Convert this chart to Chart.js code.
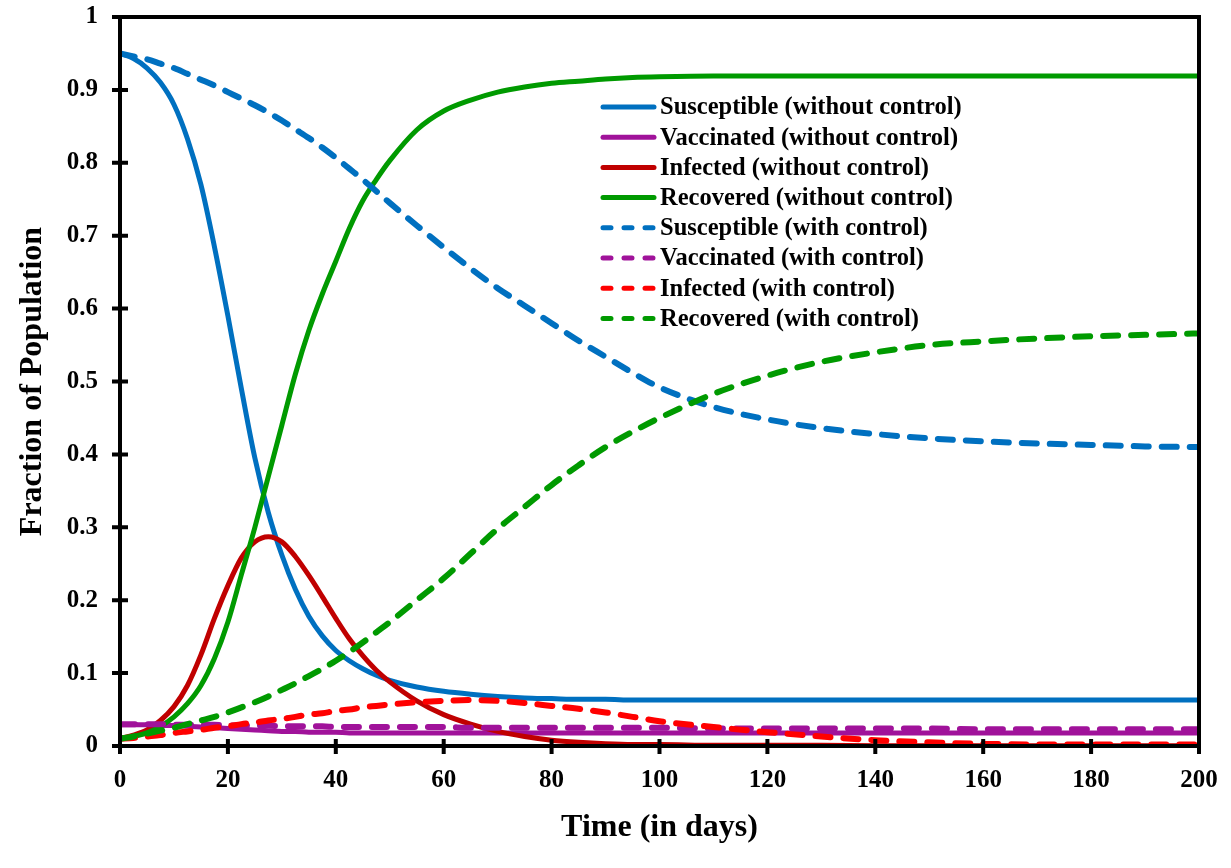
<!DOCTYPE html>
<html>
<head>
<meta charset="utf-8">
<script src="https://cdn.jsdelivr.net/npm/chart.js@4"></script>
<style>
    html, body { margin: 0; padding: 0; background: #fff; }
    #wrap { width: 1231px; height: 868px; }
</style>
</head>
<body>
<div id="wrap"><canvas id="sirChart" width="1231" height="868"></canvas></div>
<script>
const days = [0, 2.5, 5, 7.5, 10, 12.5, 15, 17.5, 20, 22.5, 25, 27.5, 30, 32.5, 35, 37.5, 40, 42.5, 45, 47.5, 50,
    55, 60, 65, 70, 75, 80, 85, 90, 95, 100,
    110, 120, 130, 140, 150, 160, 170, 180, 190, 200];

// without control
const susWithout = [0.950, 0.943, 0.930, 0.910, 0.880, 0.833, 0.770, 0.685, 0.590, 0.490, 0.395, 0.320, 0.262, 0.215, 0.178, 0.151, 0.131, 0.117, 0.106, 0.097, 0.090,
    0.081, 0.075, 0.071, 0.068, 0.066, 0.065, 0.064, 0.064, 0.063, 0.063,
    0.063, 0.063, 0.063, 0.063, 0.063, 0.063, 0.063, 0.063, 0.063, 0.063];
const vacWithout = [0.029, 0.029, 0.029, 0.028, 0.028, 0.027, 0.026, 0.025, 0.024, 0.023, 0.022, 0.021, 0.020, 0.020, 0.019, 0.019, 0.019, 0.018, 0.018, 0.018, 0.018,
    0.018, 0.018, 0.018, 0.018, 0.018, 0.018, 0.018, 0.018, 0.018, 0.018,
    0.018, 0.018, 0.018, 0.018, 0.018, 0.018, 0.018, 0.018, 0.018, 0.018];
const infWithout = [0.010, 0.015, 0.022, 0.035, 0.054, 0.083, 0.125, 0.175, 0.220, 0.258, 0.280, 0.287, 0.280, 0.260, 0.234, 0.205, 0.175, 0.147, 0.124, 0.104, 0.088,
    0.062, 0.043, 0.030, 0.020, 0.013, 0.008, 0.005, 0.003, 0.002, 0.002,
    0.001, 0.001, 0.001, 0.0005, 0.0005, 0.0005, 0.0005, 0.0005, 0.0005, 0.0005];
const recWithout = [0.010, 0.013, 0.018, 0.027, 0.040, 0.058, 0.083, 0.120, 0.170, 0.235, 0.300, 0.370, 0.440, 0.510, 0.570, 0.620, 0.665, 0.710, 0.748, 0.777, 0.803,
    0.845, 0.871, 0.886, 0.897, 0.904, 0.909, 0.912, 0.915, 0.917, 0.918,
    0.919, 0.919, 0.919, 0.919, 0.919, 0.919, 0.919, 0.919, 0.919, 0.919];

// with control
const susWith = [0.950, 0.946, 0.942, 0.936, 0.930, 0.922, 0.914, 0.906, 0.897, 0.888, 0.879, 0.869, 0.858, 0.846, 0.834, 0.821, 0.807, 0.792, 0.777, 0.761, 0.745,
    0.714, 0.684, 0.655, 0.628, 0.604, 0.580, 0.556, 0.534, 0.512, 0.492,
    0.465, 0.448, 0.436, 0.428, 0.422, 0.418, 0.415, 0.413, 0.411, 0.410];
const vacWith = [0.030, 0.030, 0.030, 0.030, 0.029, 0.029, 0.029, 0.029, 0.028, 0.028, 0.028, 0.028, 0.027, 0.027, 0.027, 0.027, 0.026, 0.026, 0.026, 0.026, 0.026,
    0.026, 0.026, 0.025, 0.025, 0.025, 0.025, 0.025, 0.025, 0.025, 0.025,
    0.024, 0.024, 0.024, 0.024, 0.024, 0.023, 0.023, 0.023, 0.023, 0.023];
const infWith = [0.010, 0.011, 0.013, 0.015, 0.018, 0.020, 0.022, 0.025, 0.027, 0.030, 0.032, 0.035, 0.037, 0.040, 0.043, 0.045, 0.048, 0.050, 0.053, 0.055, 0.057,
    0.060, 0.062, 0.063, 0.062, 0.059, 0.055, 0.051, 0.046, 0.040, 0.034,
    0.026, 0.019, 0.013, 0.008, 0.005, 0.003, 0.002, 0.002, 0.002, 0.002];
const recWith = [0.010, 0.013, 0.017, 0.021, 0.025, 0.030, 0.035, 0.040, 0.046, 0.053, 0.060, 0.068, 0.077, 0.086, 0.096, 0.106, 0.117, 0.129, 0.142, 0.156, 0.170,
    0.200, 0.230, 0.264, 0.298, 0.328, 0.358, 0.385, 0.410, 0.431, 0.450,
    0.483, 0.508, 0.527, 0.540, 0.550, 0.555, 0.559, 0.562, 0.564, 0.566];

const FONT = "'Liberation Serif', 'Times New Roman', serif";
const BLUE = '#0070C0', PURPLE = '#A0129A', DARKRED = '#C00000', GREEN = '#009A00', RED = '#FF0000';

function toPoints(arr) {
    return days.map((d, i) => ({ x: d, y: arr[i] }));
}

function series(label, values, color, dashed, order) {
    return {
        label: label,
        data: toPoints(values),
        borderColor: color,
        backgroundColor: color,
        borderWidth: dashed ? 6 : 5,
        borderDash: dashed ? [15, 13] : [],
        borderCapStyle: dashed ? 'round' : 'butt',
        pointRadius: 0,
        cubicInterpolationMode: 'monotone',
        fill: false,
        order: order
    };
}

// no extra room for the first / last tick label
function noLabelPadding(scale) {
    scale.paddingTop = 0;
    scale.paddingBottom = 0;
    scale.paddingLeft = 0;
    scale.paddingRight = 0;
}

// frame, crossing tick marks and the legend inside the plot
const framePlugin = {
    id: 'frame',
    afterDatasetsDraw(chart) {
        const { ctx, chartArea: a, scales: { x, y } } = chart;
        ctx.save();
        ctx.strokeStyle = '#000';
        ctx.lineWidth = 4;
        ctx.strokeRect(a.left, a.top, a.right - a.left, a.bottom - a.top);
        ctx.beginPath();
        y.ticks.forEach(t => {
            const p = y.getPixelForValue(t.value);
            ctx.moveTo(a.left - 8, p);
            ctx.lineTo(a.left + 8, p);
        });
        x.ticks.forEach(t => {
            const p = x.getPixelForValue(t.value);
            ctx.moveTo(p, a.bottom - 7);
            ctx.lineTo(p, a.bottom + 8);
        });
        ctx.stroke();

        ctx.font = 'bold 24.5px ' + FONT;
        ctx.textBaseline = 'middle';
        ctx.textAlign = 'left';
        chart.data.datasets.forEach((ds, i) => {
            const yy = 107 + i * 30.2;
            ctx.strokeStyle = ds.borderColor;
            ctx.lineWidth = 5;
            ctx.lineCap = 'round';
            ctx.setLineDash(ds.borderDash.length ? [8, 13] : []);
            ctx.beginPath();
            ctx.moveTo(603, yy);
            ctx.lineTo(654, yy);
            ctx.stroke();
            ctx.setLineDash([]);
            ctx.fillStyle = '#000';
            ctx.fillText(ds.label, 660, yy + 1);
        });
        ctx.restore();
    }
};

new Chart(document.getElementById('sirChart'), {
    type: 'line',
    data: {
        datasets: [
            series('Susceptible (without control)', susWithout, BLUE, false, 7),
            series('Vaccinated (without control)', vacWithout, PURPLE, false, 6),
            series('Infected (without control)', infWithout, DARKRED, false, 5),
            series('Recovered (without control)', recWithout, GREEN, false, 4),
            series('Susceptible (with control)', susWith, BLUE, true, 3),
            series('Vaccinated (with control)', vacWith, PURPLE, true, 2),
            series('Infected (with control)', infWith, RED, true, 1),
            series('Recovered (with control)', recWith, GREEN, true, 0)
        ]
    },
    options: {
        responsive: false,
        animation: false,
        devicePixelRatio: 1,
        layout: { padding: { top: 17, right: 32, bottom: 0, left: 0 } },
        plugins: {
            legend: { display: false },
            tooltip: { enabled: false }
        },
        scales: {
            x: {
                type: 'linear',
                min: 0,
                max: 200,
                grid: { display: false, drawTicks: false },
                border: { display: false },
                ticks: {
                    stepSize: 20,
                    padding: 20,
                    maxRotation: 0,
                    color: '#000',
                    font: { family: FONT, size: 25, weight: 'bold' }
                },
                title: {
                    display: true,
                    text: 'Time (in days)',
                    color: '#000',
                    font: { family: FONT, size: 32, weight: 'bold' },
                    padding: { top: 0, bottom: 21 }
                },
                afterFit(scale) {
                    scale.height = 122;
                    noLabelPadding(scale);
                }
            },
            y: {
                min: 0,
                max: 1,
                grid: { display: false, drawTicks: false },
                border: { display: false },
                ticks: {
                    stepSize: 0.1,
                    padding: 22,
                    color: '#000',
                    font: { family: FONT, size: 25, weight: 'bold' },
                    callback: v => String(Number(v.toFixed(1)))
                },
                title: {
                    display: true,
                    text: 'Fraction of Population',
                    color: '#000',
                    font: { family: FONT, size: 32, weight: 'bold' },
                    padding: { top: 14, bottom: 0 }
                },
                afterFit(scale) {
                    scale.width = 120;
                    noLabelPadding(scale);
                }
            }
        }
    },
    plugins: [framePlugin]
});
</script>
</body>
</html>
